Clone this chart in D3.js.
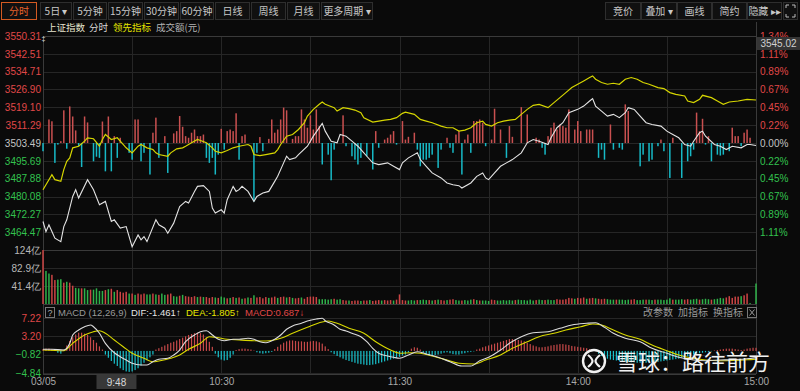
<!DOCTYPE html>
<html><head><meta charset="utf-8">
<script src="https://cdn.jsdelivr.net/npm/d3@7/dist/d3.min.js"></script>
<style>
html,body{margin:0;padding:0;background:#0a0a0a;overflow:hidden}
svg{display:block}
</style></head><body><svg id="c" width="800" height="391"></svg>
<script>
// ---------------- DATA ----------------
const basePrice = 3503.49;
const priceBottom = 3456.67;
const priceTicks = [3550.31,3542.51,3534.71,3526.90,3519.10,3511.29,3503.49,3495.69,3487.88,3480.08,3472.27,3464.47];
const pctLabels = ["1.34%","1.11%","0.89%","0.67%","0.45%","0.22%","0.00%","0.22%","0.45%","0.67%","0.89%","1.11%"];
const volTicks = [124,82.9,41.4];
const volTickLabels = ["124亿","82.9亿","41.4亿"];
const macdTicks = [7.22,3.20,-0.82,-4.84];
const timeTickMin = [0,60,120,180,240];
const timeLabels = ["03/05","10:30","11:30","14:00","15:00"];
const cursorMin = 18, cursorLabel = "9:48";

// 上证指数 (white) – minute index / price
const idxMin = [0,1,2,3,4,6,7,8,10,11,12,15,17,19,21,23,24,26,28,30,32,33,34,35,38,39,41,42,44,46,48,49,51,52,54,56,57,58,60,61,62,64,65,66,67,69,71,72,74,76,78,79,81,82,83,85,86,89,91,94,95,97,99,100,102,104,106,108,109,111,113,116,118,120,121,123,126,127,129,131,134,136,138,140,141,144,146,148,149,150,152,154,156,158,161,163,165,167,170,171,173,175,177,180,182,184,185,186,188,190,192,194,196,197,199,201,203,205,208,210,212,214,216,218,219,221,222,223,226,228,230,232,235,237,238,240];
const idxVal = [3469.13,3464.73,3467.68,3464.73,3461.83,3460.34,3466.93,3469.88,3480.11,3483.06,3479.41,3487.45,3483.06,3476.47,3477.92,3469.13,3469.88,3466.23,3466.93,3458.14,3463.28,3461.09,3462.54,3460.34,3469.88,3467.68,3466.23,3464.03,3468.42,3475.72,3477.92,3477.21,3482.31,3484.51,3484.82,3482.31,3475.02,3472.82,3474.27,3472.82,3478.66,3484.51,3482.31,3483.06,3484.51,3482.31,3477.92,3480.11,3481.61,3482.31,3486.70,3488.90,3494.79,3497.69,3496.24,3496.99,3498.44,3502.08,3506.48,3512.06,3508.68,3504.28,3503.58,3507.23,3506.48,3504.28,3502.08,3499.18,3497.69,3494.79,3494.04,3494.79,3493.30,3491.85,3494.79,3496.99,3499.18,3496.24,3493.30,3490.40,3488.20,3486.00,3485.25,3484.82,3483.80,3486.00,3488.90,3490.40,3488.20,3487.45,3490.40,3493.30,3494.79,3496.24,3499.18,3503.58,3505.03,3504.28,3502.83,3505.77,3510.17,3512.37,3516.76,3518.21,3519.66,3521.86,3522.91,3519.66,3517.46,3515.27,3516.01,3514.56,3516.76,3518.96,3518.21,3515.27,3512.37,3511.62,3510.87,3508.68,3507.23,3505.77,3502.83,3502.08,3504.28,3507.97,3508.68,3506.48,3502.83,3502.08,3500.63,3502.08,3501.38,3502.83,3502.83,3502.39];

// 领先指标 (yellow)
const leadMin = [0,1,3,4,6,7,8,9,10,12,14,15,17,19,20,21,23,25,26,28,30,32,33,35,37,38,39,42,43,45,47,48,50,52,53,55,57,58,60,62,64,66,69,70,71,73,75,78,79,80,82,84,86,88,89,91,93,94,95,98,99,101,103,105,107,108,111,113,115,117,119,121,122,125,127,129,131,134,136,138,140,142,144,146,148,149,151,153,155,157,159,161,163,165,167,170,172,174,176,178,180,182,184,185,186,188,190,192,194,196,198,200,202,204,207,209,211,213,216,217,219,221,222,225,227,229,231,234,237,240];
const leadVal = [3483.06,3485.25,3489.65,3487.45,3486.70,3491.85,3495.49,3496.99,3501.38,3502.08,3504.28,3505.77,3505.34,3502.08,3505.03,3507.23,3505.03,3505.77,3504.28,3501.38,3499.18,3502.08,3502.83,3501.38,3500.63,3499.18,3498.44,3497.69,3499.18,3500.94,3501.38,3502.08,3503.58,3505.03,3504.59,3503.58,3501.38,3499.89,3499.18,3500.19,3501.38,3502.08,3502.83,3502.08,3498.44,3498.00,3498.44,3499.18,3500.63,3502.83,3506.48,3507.23,3509.42,3512.37,3515.27,3518.21,3520.41,3521.42,3520.41,3518.96,3517.46,3518.96,3518.52,3517.90,3516.76,3514.56,3512.63,3513.07,3513.51,3513.82,3514.56,3516.45,3517.02,3516.01,3513.82,3513.07,3512.37,3510.87,3510.17,3510.17,3508.68,3509.11,3510.17,3512.37,3513.07,3511.62,3510.87,3512.37,3513.07,3513.51,3513.82,3516.01,3518.21,3519.97,3520.41,3518.96,3521.15,3523.35,3525.55,3527.75,3529.20,3530.65,3532.14,3532.84,3531.39,3529.94,3529.20,3529.63,3529.20,3531.39,3532.14,3531.39,3529.94,3529.20,3527.75,3527.31,3525.55,3524.80,3524.05,3521.86,3521.15,3522.60,3524.36,3523.35,3521.86,3520.41,3521.42,3521.86,3522.60,3522.30];

// buy/sell strength bars in price panel (minute index / value in index points)
const barMin = [0,2,3,4,5,6,7,8,9,10,11,12,13,14,15,17,18,19,20,21,22,23,24,25,26,29,30,31,32,33,34,36,37,38,39,41,42,44,45,46,47,48,49,50,51,52,53,54,55,56,57,58,59,60,61,62,63,64,65,66,67,68,71,72,73,74,76,77,78,79,80,81,82,84,85,86,87,88,89,90,91,92,93,94,96,97,98,101,102,104,105,106,107,109,111,112,113,115,116,117,118,119,121,122,123,125,126,127,128,129,130,131,133,134,136,137,138,139,140,141,142,143,144,145,146,147,148,149,151,152,154,156,157,158,161,163,166,167,168,169,170,171,172,173,174,175,176,177,179,180,181,183,184,185,187,188,189,191,192,194,195,196,197,201,202,204,205,207,208,209,211,212,215,217,218,219,220,221,222,223,224,225,227,228,229,231,232,233,234,235,236,237,238];
const barVal = [-3.6,10.3,9.5,-8.7,-0.7,0.8,14.3,-2.5,16.0,11.6,5.5,-1.4,-10.5,11.6,9.0,-8.0,-6.0,-6.5,9.4,-12.4,11.6,-12.4,3.0,-6.5,2.3,-4.3,-7.3,10.3,10.3,-8.0,-4.3,-13.8,4.5,11.1,-6.5,3.0,-13.1,4.2,5.2,11.8,7.1,3.0,2.3,4.5,5.9,3.0,3.0,3.7,-6.5,-8.7,-6.5,-13.8,-5.1,6.2,-2.9,5.2,5.9,5.2,13.0,-7.3,3.0,3.7,-25.6,-4.3,2.6,-3.6,1.8,10.3,4.5,5.9,10.3,15.5,14.3,1.8,3.0,3.0,14.7,10.3,6.7,12.1,5.9,14.7,7.4,-9.4,-5.1,-16.3,-2.9,12.1,-1.4,-5.8,-7.3,-9.4,-6.5,-5.8,-11.6,5.2,-2.1,1.5,2.3,3.7,5.2,-0.7,9.6,1.5,2.7,4.5,-2.9,-10.2,-7.3,-7.3,-6.5,-5.1,-10.9,-2.9,2.3,-2.1,-4.3,3.7,5.2,-13.8,1.5,3.7,-4.3,9.6,9.6,10.3,8.9,-1.4,1.5,15.0,5.9,-6.5,7.4,2.7,15.7,12.5,2.3,1.5,-2.1,-5.1,3.0,6.7,8.9,5.9,8.1,7.4,6.7,14.7,5.9,9.6,5.2,5.9,5.9,5.9,-6.5,-2.9,-7.3,8.1,-2.9,-2.1,-2.9,16.9,14.0,-10.2,-5.1,-8.0,-7.3,-1.4,1.5,-3.6,-15.3,2.3,-15.3,-8.0,-5.8,-2.9,13.3,5.2,10.6,-0.7,3.0,-8.0,-5.1,-5.5,-5.1,-3.6,6.7,3.0,3.0,-1.4,4.5,5.9,2.3];

// 成交额 (亿元), one per minute, with up(r)/down(g) flag
const volume = [124,
76,70,67,55,56,57,49,51,49,42,
37,36,36,36,32,33,33,36,30,30,
32,34,35,28,32,28,26,28,24,24,
21,24,22,24,22,22,24,22,21,24,
21,22,24,18,17,19,21,18,17,16,
18,16,17,16,16,14,16,15,14,17,
15,13,14,16,14,15,12,13,15,14,
20,15,16,13,16,14,15,17,14,16,
17,15,16,14,13,14,15,12,16,17,
17,16,11,11,11,10,11,12,10,11,
9,8,8,7,8,8,7,8,8,9,
7,8,9,8,9,8,9,8,10,22,
9,8,8,9,8,9,9,10,9,9,
8,9,10,9,8,9,10,11,9,8,
8,9,8,10,11,9,8,8,8,7,
10,9,8,8,9,8,9,8,9,10,
9,9,8,10,8,9,10,9,9,10,
9,9,11,10,10,11,14,13,12,14,
13,15,12,13,14,13,12,11,12,11,
10,10,10,10,10,9,10,10,11,9,
9,10,10,10,9,10,10,10,9,10,
13,10,10,10,11,10,11,10,11,12,
10,11,12,11,10,11,12,14,13,15,
18,14,17,17,18,20,24,2,0,47];
const volDir = "r"+"ggrrggrgrr"+"ggrggrgggg"+"rgrgrrrrgr"+"grrrggrgrg"+"grrggrgrrr"+"rgrgrrrgrg"+"grgrgrgrgr"+"grrrrgrrgr"+"rgrgrrgrrr"+"rrgggggrgg"+"rrgrrrgrrg"+"rrrgrrrgrr"+"rrgggrgggr"+"grgrrgrrgg"+"rgggrgrggg"+"rrggggggrg"+"gggggrggrg"+"ggrrrrrrgr"+"rrgrrgrrrg"+"ggrggggrrg"+"ggrggrgggg"+"grgggrrggg"+"rgggrggggr"+"rrrrgrrggg";

// MACD histogram, one per minute
const macdHist = [0.4,0.5,0.5,0.4,0.3,-0.4,-0.6,
0.3,1.2,2.2,3.0,3.6,4.0,4.0,3.8,3.5,3.0,2.4,1.8,1.0,0.3,
-0.8,-1.5,-2.2,-2.8,-3.3,-3.8,-4.2,-4.5,-4.6,-4.5,-4.2,-3.8,-3.2,-2.6,-2.0,-1.4,-0.8,
0.3,0.6,0.9,1.2,1.5,1.8,2.0,2.3,2.6,2.9,3.2,3.5,3.7,3.9,4.0,3.9,3.6,3.0,2.0,0.9,
-0.6,-1.4,-1.9,-2.1,-2.0,-1.5,-0.8,
0.2,0.4,0.5,0.5,0.4,0.3,0.1,
-0.3,-0.5,-0.6,-0.5,-0.4,-0.2,
0.4,0.9,1.4,1.8,2.1,2.3,2.3,2.2,2.1,2.1,2.0,2.0,2.1,2.2,2.1,1.9,1.6,1.0,0.4,
-0.3,-0.7,-1.1,-1.4,-1.7,-2.0,-2.2,-2.4,-2.6,-2.8,-2.9,-3.0,-3.1,-3.1,-3.0,-2.9,-2.7,-2.5,-2.3,-2.1,-1.9,-1.7,-1.5,-1.3,
-1.0,-0.8,-0.3,0.5,0.8,0.7,0.3,-0.4,-0.8,-1.0,-1.0,-0.9,-0.8,-0.6,-0.4,-0.3,-0.5,-0.7,-0.8,-0.8,-0.6,-0.5,-0.3,-0.2,-0.1,
0.3,0.5,0.8,1.0,1.2,1.4,1.6,1.8,2.0,2.2,2.4,2.6,2.6,2.5,2.4,2.3,2.1,1.8,1.5,1.2,1.0,0.8,0.8,0.9,1.0,1.2,1.3,1.4,1.5,1.5,1.4,1.3,1.1,1.0,0.9,0.8,0.7,0.6,0.4,0.2,0.1,
-0.6,-1.1,-1.5,-1.7,-1.9,-2.0,-2.1,-2.2,-2.3,-2.4,-2.4,-2.5,-2.5,-2.6,-2.6,-2.6,-2.6,-2.5,-2.5,-2.4,-2.4,-2.3,-2.2,-2.1,-2.0,-1.9,-1.8,-1.7,-1.5,-1.4,-1.2,-1.0,-0.8,-0.6,-0.5,-0.4,
-0.3,-0.2,-0.1,0.1,0.2,0.3,0.4,0.5,0.5,0.5,0.4,0.3,0.2,0.3,0.5,0.6,0.7,0.687];

// DIF (white) and DEA (yellow)
const difMin = [0,3,7,9,10,12,14,16,17,19,21,24,26,28,30,33,35,37,39,42,44,46,48,51,53,55,57,59,61,64,66,69,71,73,75,78,80,82,84,87,89,92,94,95,98,100,102,104,107,109,111,113,116,118,120,123,126,129,133,137,141,144,147,150,154,157,161,165,170,174,178,183,186,189,192,196,201,205,210,214,219,223,228,232,237,240];
const difVal = [0.36,0.36,0.20,1.67,3.49,4.59,5.31,5.69,5.31,3.87,1.67,-0.39,-1.27,-1.99,-2.71,-3.09,-3.09,-2.36,-1.84,-1.62,-0.89,0.20,2.02,3.49,4.22,4.44,3.49,2.55,2.24,2.55,2.55,2.77,2.55,2.02,1.80,2.55,3.49,4.74,5.47,6.06,6.56,7.00,7.15,6.63,5.69,4.74,4.37,3.87,3.12,2.02,0.58,-0.52,-1.11,-1.40,-1.62,-0.89,-0.17,-0.67,-1.40,-2.36,-3.31,-3.31,-2.14,-1.40,0.20,1.67,3.12,4.00,4.22,4.96,5.69,6.06,6.19,5.18,3.87,2.77,2.02,0.58,-0.52,-1.40,-1.99,-2.14,-2.00,-1.90,-1.70,-1.461];
const deaMin = [0,7,10,14,17,19,21,24,27,30,34,37,39,43,46,49,53,56,58,62,66,71,75,80,84,89,93,96,99,103,108,112,117,120,124,127,131,136,140,145,149,154,158,163,167,172,176,181,185,188,192,196,201,205,210,214,219,223,228,232,237,240];
const deaVal = [0.20,0.05,1.67,3.49,4.22,4.44,3.87,2.40,0.93,-0.52,-1.62,-2.36,-2.21,-1.62,-0.89,0.36,1.67,3.12,2.99,2.55,2.40,2.24,2.18,2.77,3.87,5.18,6.19,6.56,6.06,4.96,3.87,2.02,0.20,-0.52,-0.39,-0.52,-1.11,-1.99,-2.71,-2.87,-1.99,-0.89,0.58,2.02,3.12,3.87,4.59,5.31,5.90,5.69,4.59,3.49,2.55,1.30,0.05,-0.89,-1.62,-1.99,-2.14,-2.10,-1.95,-1.805];

// ---------------- DRAW ----------------
const NUM = '"Liberation Sans", Arial, sans-serif';
const CJK = '"Noto Sans CJK SC", "Liberation Sans", sans-serif';
const RED = "#e04848", GREEN = "#33c24f", GREY = "#c4c4c4";
const svg = d3.select("#c");
svg.append("rect").attr("width",800).attr("height",391).attr("fill","#0a0a0a");

const X0 = 43, X1 = 756;
const x = d3.scaleLinear().domain([0,240]).range([X0,X1]);
const yP = d3.scaleLinear().domain([priceBottom, priceTicks[0]]).range([250,36]);
const yV = d3.scaleLinear().domain([0,124]).range([304,250]);
const yM = d3.scaleLinear().domain([-4.84,7.22]).range([373,318]);

// ---- toolbar ----
const tb = svg.append("g");
const leftBtns = [["分时",1,37],["5日 ▾",40,72],["5分钟",73,107],["15分钟",108,143],["30分钟",144,179],["60分钟",180,214],["日线",215,250],["周线",251,286],["月线",287,320],["更多周期 ▾",321,373]];
const rightBtns = [["竞价",605,641],["叠加 ▾",641,677],["画线",677,712],["简约",712,747],["隐藏 ▸▸",747,782]];
[...leftBtns,...rightBtns].forEach((b,i)=>{
  const active = i===0;
  tb.append("rect").attr("x",b[1]+0.5).attr("y",2.5).attr("width",b[2]-b[1]-1).attr("height",17)
    .attr("fill","#101010").attr("stroke",active?"#d35a22":"#2e2e2e");
  tb.append("text").attr("x",(b[1]+b[2])/2).attr("y",14.5).attr("text-anchor","middle")
    .attr("font-family",CJK).attr("font-size",10).attr("fill",active?"#e8632a":"#c8c8c8").text(b[0]);
});
tb.append("rect").attr("x",783.5).attr("y",2.5).attr("width",14).attr("height",17).attr("fill","#101010").attr("stroke","#2e2e2e");
tb.append("path").attr("d","M786,8v-3h3 M792,5h3v3 M795,14v3h-3 M789,17h-3v-3").attr("fill","none").attr("stroke","#bbb").attr("stroke-width",1);

// ---- header row ----
const hdr = [["上证指数",47,"#e6e6d0"],["分时",89,"#d8d8d8"],["领先指标",113,"#e6e600"],["成交额(元)",156,"#b4b4b4"]];
hdr.forEach(h=>svg.append("text").attr("x",h[1]).attr("y",31).attr("font-family",CJK).attr("font-size",9.5).attr("fill",h[2]).text(h[0]));

// ---- grid ----
const grid = svg.append("g").attr("stroke","#262626").attr("stroke-width",1);
priceTicks.concat([priceBottom]).forEach(p=>grid.append("line").attr("x1",X0).attr("x2",X1).attr("y1",Math.round(yP(p))+0.5).attr("y2",Math.round(yP(p))+0.5));
volTicks.concat([0]).forEach(v=>grid.append("line").attr("x1",X0).attr("x2",X1).attr("y1",Math.round(yV(v))+0.5).attr("y2",Math.round(yV(v))+0.5));
macdTicks.forEach(v=>grid.append("line").attr("x1",X0).attr("x2",X1).attr("y1",Math.round(yM(v))+0.5).attr("y2",Math.round(yM(v))+0.5));
d3.range(0,241,30).forEach(m=>{
  const xx = Math.round(x(m))+0.5;
  grid.append("line").attr("x1",xx).attr("x2",xx).attr("y1",36).attr("y2",304);
  grid.append("line").attr("x1",xx).attr("x2",xx).attr("y1",318).attr("y2",374);
});
const bd = svg.append("g").attr("stroke","#3a3a3a").attr("stroke-width",1);
bd.append("line").attr("x1",X0+0.5).attr("x2",X0+0.5).attr("y1",36).attr("y2",374);
bd.append("line").attr("x1",X1+0.5).attr("x2",X1+0.5).attr("y1",22).attr("y2",374);
bd.append("line").attr("x1",X0).attr("x2",X1).attr("y1",36.5).attr("y2",36.5);
bd.append("line").attr("x1",X0).attr("x2",X1).attr("y1",250.5).attr("y2",250.5);
bd.append("line").attr("x1",X0).attr("x2",X1).attr("y1",304.5).attr("y2",304.5);
bd.append("line").attr("x1",X0).attr("x2",X1).attr("y1",374.5).attr("y2",374.5);

// ---- strength bars ----
const gb = svg.append("g");
barMin.forEach((m,i)=>{
  const v = barVal[i];
  const y0 = yP(basePrice), y1 = yP(basePrice+v);
  gb.append("rect").attr("x",x(m)-0.75).attr("width",1.5)
    .attr("y",Math.min(y0,y1)).attr("height",Math.abs(y1-y0))
    .attr("fill",v>=0?"#c95050":"#17b9c6");
});

// ---- price lines ----
const lineP = d3.line().x(d=>x(d[0])).y(d=>yP(d[1]));
svg.append("path").datum(leadMin.map((m,i)=>[m,leadVal[i]])).attr("d",lineP)
  .attr("fill","none").attr("stroke","#d6d600").attr("stroke-width",1.2);
svg.append("path").datum(idxMin.map((m,i)=>[m,idxVal[i]])).attr("d",lineP)
  .attr("fill","none").attr("stroke","#e4e4e4").attr("stroke-width",1.1);

// ---- volume bars ----
const gv = svg.append("g");
volume.forEach((v,i)=>{
  gv.append("rect").attr("x",x(i)-0.75).attr("width",1.5)
    .attr("y",yV(v)).attr("height",yV(0)-yV(v))
    .attr("fill",volDir[i]==="r"?"#cc4444":"#2fb24a");
});

// ---- MACD ----
const gm = svg.append("g");
macdHist.forEach((v,i)=>{
  const y0 = yM(0), y1 = yM(v);
  gm.append("rect").attr("x",x(i)-0.6).attr("width",1.2)
    .attr("y",Math.min(y0,y1)).attr("height",Math.abs(y1-y0))
    .attr("fill",v>=0?"#c94a4a":"#19c2cc");
});
const lineM = d3.line().x(d=>x(d[0])).y(d=>yM(d[1])).curve(d3.curveMonotoneX);
svg.append("path").datum(deaMin.map((m,i)=>[m,deaVal[i]])).attr("d",lineM)
  .attr("fill","none").attr("stroke","#d8d800").attr("stroke-width",1.1);
svg.append("path").datum(difMin.map((m,i)=>[m,difVal[i]])).attr("d",lineM)
  .attr("fill","none").attr("stroke","#dcdcdc").attr("stroke-width",1.1);

// MACD header
svg.append("rect").attr("x",45.5).attr("y",307.5).attr("width",9).attr("height",10).attr("fill","none").attr("stroke","#777");
svg.append("text").attr("x",50).attr("y",316).attr("text-anchor","middle").attr("font-family",NUM).attr("font-size",9).attr("fill","#aaa").text("?");
const mh = [["MACD (12,26,9)",58,"#9a9a9a"],["DIF:-1.461↑",131,"#e6e6e6"],["DEA:-1.805↑",186,"#e6e600"],["MACD:0.687↓",245,"#e04848"]];
mh.forEach(h=>svg.append("text").attr("x",h[1]).attr("y",316).attr("font-family",NUM).attr("font-size",9.5).attr("fill",h[2]).text(h[0]));
[["改参数",643],["加指标",678],["换指标",713]].forEach(h=>svg.append("text").attr("x",h[1]).attr("y",316).attr("font-family",CJK).attr("font-size",10).attr("fill","#9a9a9a").text(h[0]));
svg.append("rect").attr("x",747.5).attr("y",307.5).attr("width",9).attr("height",10).attr("fill","none").attr("stroke","#777");
svg.append("path").attr("d","M749.5,309.5l5,6 M754.5,309.5l-5,6").attr("stroke","#999").attr("stroke-width",1);

// ---- axes ----
function styleAxis(g){ g.select(".domain").remove(); g.selectAll("text").attr("font-family",NUM).attr("font-size",10); }
const axL = svg.append("g").attr("transform","translate(41,0)")
  .call(d3.axisLeft(yP).tickValues(priceTicks).tickSize(0).tickPadding(0).tickFormat(d3.format(".2f")));
styleAxis(axL);
axL.selectAll("text").attr("fill",d=>d>basePrice?RED:(d<basePrice?GREEN:GREY));

const axR = svg.append("g").attr("transform","translate(760,0)")
  .call(d3.axisRight(yP).tickValues(priceTicks).tickSize(0).tickPadding(0).tickFormat((d,i)=>pctLabels[i]));
styleAxis(axR);
axR.selectAll("text").attr("fill",d=>d>basePrice?RED:(d<basePrice?GREEN:GREY));

const axV = svg.append("g").attr("transform","translate(41,0)")
  .call(d3.axisLeft(yV).tickValues(volTicks).tickSize(0).tickPadding(0).tickFormat((d,i)=>volTickLabels[i]));
styleAxis(axV);
axV.selectAll("text").attr("fill","#b8b8b8");

const axM = svg.append("g").attr("transform","translate(41,0)")
  .call(d3.axisLeft(yM).tickValues(macdTicks).tickSize(0).tickPadding(0).tickFormat(d3.format(".2f")));
styleAxis(axM);
axM.selectAll("text").attr("fill",d=>d>0?RED:GREEN);

const axT = svg.append("g").attr("transform","translate(0,378)")
  .call(d3.axisBottom(x).tickValues(timeTickMin).tickSize(0).tickPadding(0).tickFormat((d,i)=>timeLabels[i]));
styleAxis(axT);
axT.selectAll("text").attr("fill","#a8a8a8");

// cursor time box
svg.append("rect").attr("x",x(cursorMin)).attr("y",375).attr("width",40).attr("height",14).attr("fill","#383838");
svg.append("text").attr("x",x(cursorMin)+20).attr("y",386).attr("text-anchor","middle").attr("font-family",NUM).attr("font-size",10).attr("fill","#d8d8d8").text(cursorLabel);

// top marker + price box
svg.append("text").attr("x",41.5).attr("y",41).attr("font-family",NUM).attr("font-size",7).attr("fill","#ddd").text("‡");
svg.append("rect").attr("x",757).attr("y",37).attr("width",43).attr("height",13).attr("fill","#353535");
svg.append("text").attr("x",778.5).attr("y",47).attr("text-anchor","middle").attr("font-family",NUM).attr("font-size",10).attr("fill","#d0d0d0").text("3545.02");

// ---- watermark ----
const wm = svg.append("g").attr("transform","translate(594,361)");
wm.append("circle").attr("r",11).attr("fill","none").attr("stroke","#f2f2f2").attr("stroke-width",2.4);
wm.append("path").attr("d","M-6,-6 C0,-1 0,1 -6,6 M6,-6 C0,-1 0,1 6,6").attr("fill","none").attr("stroke","#f2f2f2").attr("stroke-width",2.2);
svg.append("text").attr("x",616).attr("y",370).attr("font-family",CJK).attr("font-size",22).attr("fill","#f2f2f2").text("雪球：路往前方");
</script></body></html>
